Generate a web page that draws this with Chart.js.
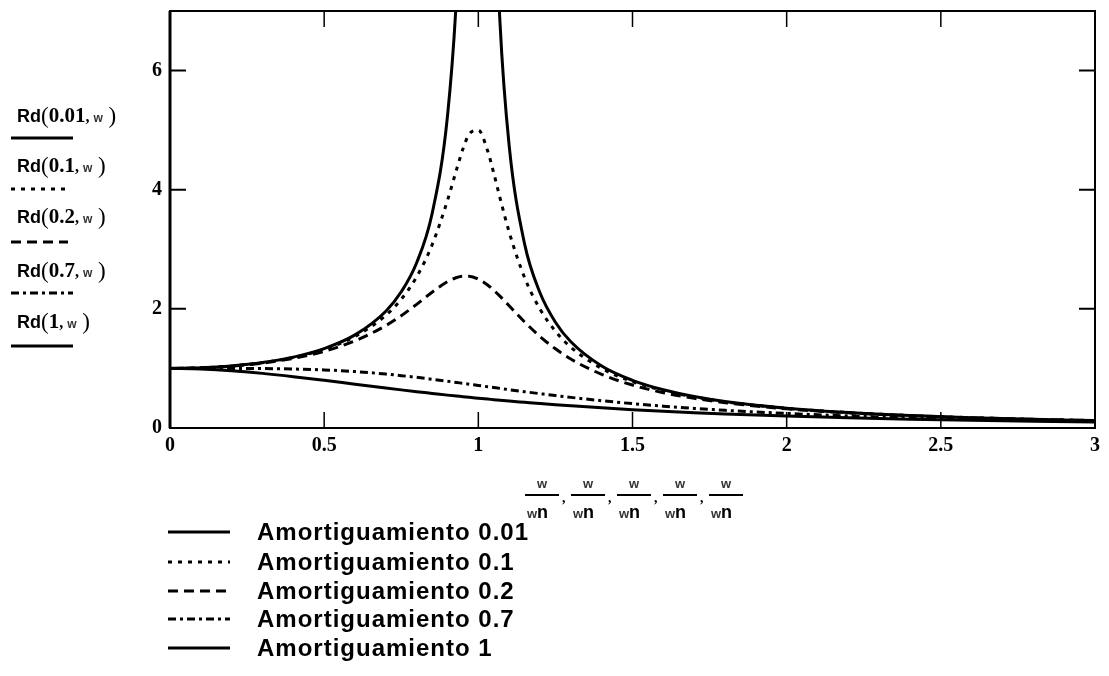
<!DOCTYPE html>
<html>
<head>
<meta charset="utf-8">
<script src="https://cdn.jsdelivr.net/npm/chart.js@4/dist/chart.umd.min.js"></script>
<style>
html,body{margin:0;padding:0;background:#fff;}
#c{display:block;}
</style>
</head>
<body>
<canvas id="c" width="1109" height="676"></canvas>
<script>
// ---- data ----
const ratio = [0,0.1,0.2,0.3,0.4,0.5,0.6,0.7,0.75,0.8,0.85,0.9,0.93,0.95,0.97,1.0,1.03,1.05,1.07,1.1,1.15,1.2,1.25,1.3,1.4,1.5,1.6,1.7,1.8,2.0,2.2,2.4,2.6,2.8,3.0];
const rd001 = [1,1.01,1.042,1.099,1.19,1.333,1.563,1.961,2.286,2.775,3.597,5.24,7.33,10.07,16.08,50,15.55,9.56,6.83,4.74,3.09,2.27,1.776,1.448,1.041,0.80,0.641,0.529,0.446,0.333,0.260,0.210,0.174,0.146,0.125];
const rd01 = [1,1.01,1.041,1.097,1.185,1.322,1.536,1.891,2.162,2.538,3.073,3.821,4.35,4.683,4.931,5.0,4.655,4.279,3.869,3.288,2.525,1.995,1.625,1.356,1.0,0.778,0.628,0.521,0.441,0.330,0.259,0.209,0.173,0.146,0.125];
const rd02 = [1,1.009,1.038,1.09,1.17,1.288,1.463,1.719,1.885,2.076,2.279,2.457,2.527,2.549,2.548,2.5,2.401,2.313,2.213,2.051,1.78,1.536,1.329,1.157,0.90,0.721,0.593,0.498,0.425,0.322,0.254,0.206,0.171,0.144,0.124];
const rd07 = [1,1.0,1.0,0.998,0.99,0.975,0.947,0.905,0.879,0.85,0.818,0.785,0.764,0.75,0.736,0.714,0.693,0.679,0.665,0.643,0.609,0.576,0.544,0.514,0.458,0.409,0.366,0.329,0.297,0.244,0.203,0.172,0.147,0.127,0.111];
const rd1 = [1,0.99,0.962,0.917,0.862,0.8,0.735,0.671,0.64,0.61,0.581,0.552,0.536,0.526,0.515,0.5,0.485,0.476,0.466,0.452,0.431,0.41,0.39,0.372,0.338,0.308,0.281,0.257,0.236,0.2,0.171,0.148,0.129,0.113,0.1];
const dampings = ['0.01','0.1','0.2','0.7','1'];
const seriesNames = ['Amortiguamiento 0.01','Amortiguamiento 0.1','Amortiguamiento 0.2','Amortiguamiento 0.7','Amortiguamiento 1'];
const xTicks = [0,0.5,1,1.5,2,2.5,3];
const yTicks = [0,2,4,6];

// ---- styles ----
const series = [rd001, rd01, rd02, rd07, rd1];
const dashes = [[], [4,6], [10,6], [8,4,3,4], []];

const datasets = series.map((vals, i) => ({
  label: seriesNames[i],
  data: ratio.map((x, k) => ({x: x, y: vals[k]})),
  borderColor: '#000',
  borderWidth: 3,
  borderDash: dashes[i],
  borderCapStyle: 'butt',
  pointRadius: 0,
  fill: false,
  cubicInterpolationMode: 'monotone'
}));

function drawRich(ctx, x, y, parts) {
  ctx.textBaseline = 'alphabetic';
  ctx.textAlign = 'left';
  for (const p of parts) {
    ctx.font = p.f;
    ctx.fillStyle = p.c || '#000';
    ctx.fillText(p.t, x + (p.dx || 0), y + (p.dy || 0));
    x += ctx.measureText(p.t).width + (p.dx || 0);
  }
}

const decor = {
  id: 'decor',
  afterDraw(chart) {
    const ctx = chart.ctx;
    const a = chart.chartArea;
    const xs = chart.scales.x, ys = chart.scales.y;
    ctx.save();
    ctx.setLineDash([]);
    ctx.strokeStyle = '#000';
    // frame
    ctx.lineWidth = 2;
    ctx.strokeRect(a.left, a.top, a.right - a.left, a.bottom - a.top);
    ctx.lineWidth = 3;
    ctx.beginPath(); ctx.moveTo(a.left, a.top); ctx.lineTo(a.left, a.bottom); ctx.stroke();
    // inward ticks
    ctx.lineWidth = 1.5;
    xTicks.forEach(v => {
      if (v === xs.min || v === xs.max) return;
      const px = xs.getPixelForValue(v);
      ctx.beginPath();
      ctx.moveTo(px, a.bottom); ctx.lineTo(px, a.bottom - 16);
      ctx.moveTo(px, a.top); ctx.lineTo(px, a.top + 16);
      ctx.stroke();
    });
    ctx.lineWidth = 2;
    yTicks.forEach(v => {
      if (v === ys.min) return;
      const py = ys.getPixelForValue(v);
      ctx.beginPath();
      ctx.moveTo(a.left, py); ctx.lineTo(a.left + 16, py);
      ctx.moveTo(a.right, py); ctx.lineTo(a.right - 16, py);
      ctx.stroke();
    });

    // left-hand labels Rd(ζ, w)
    const baseY = [122, 172, 223, 277, 328];
    const lineY = [138, 189, 242, 293, 346];
    const lineEnd = [73, 65, 68, 73, 73];
    dampings.forEach((d, i) => {
      drawRich(ctx, 17, baseY[i], [
        {t: 'Rd', f: 'bold 18px "Liberation Sans", Arial, sans-serif'},
        {t: '(', f: '23px "Liberation Serif", serif', dy: 1},
        {t: d, f: 'bold 21px "Liberation Serif", serif'},
        {t: ', ', f: 'bold 16px "Liberation Serif", serif'},
        {t: 'w', f: 'bold 12px "Liberation Sans", sans-serif', c: '#333'},
        {t: ' )', f: '23px "Liberation Serif", serif', dy: 1}
      ]);
      ctx.setLineDash(chart.data.datasets[i].borderDash);
      ctx.lineWidth = 3;
      ctx.lineCap = 'butt';
      ctx.beginPath(); ctx.moveTo(11, lineY[i]); ctx.lineTo(lineEnd[i], lineY[i]); ctx.stroke();
    });
    ctx.setLineDash([]);

    // x-axis label: w/wn, w/wn, ...
    const fx = [525, 571, 617, 663, 709];
    fx.forEach((x0, i) => {
      ctx.lineWidth = 2;
      ctx.beginPath(); ctx.moveTo(x0, 495); ctx.lineTo(x0 + 34, 495); ctx.stroke();
      ctx.textAlign = 'center';
      ctx.font = 'bold 13px "Liberation Sans", sans-serif';
      ctx.fillStyle = '#333';
      ctx.fillText('w', x0 + 17, 488);
      drawRich(ctx, x0 + 2, 518, [
        {t: 'w', f: 'bold 13px "Liberation Sans", sans-serif', c: '#333'},
        {t: 'n', f: 'bold 18px "Liberation Sans", sans-serif'}
      ]);
      if (i < fx.length - 1) {
        ctx.font = 'bold 14px "Liberation Serif", serif';
        ctx.fillStyle = '#000';
        ctx.textAlign = 'left';
        ctx.fillText(',', x0 + 37, 502);
      }
    });

    // bottom legend
    const rowY = [532, 562, 591, 619, 648];
    chart.data.datasets.forEach((ds, i) => {
      ctx.setLineDash(ds.borderDash);
      ctx.lineWidth = 3;
      ctx.beginPath(); ctx.moveTo(168, rowY[i]); ctx.lineTo(230, rowY[i]); ctx.stroke();
      ctx.setLineDash([]);
      ctx.font = 'bold 24px "Liberation Sans", Arial, sans-serif';
      ctx.letterSpacing = '1px';
      ctx.fillStyle = '#000';
      ctx.textAlign = 'left';
      ctx.textBaseline = 'alphabetic';
      ctx.fillText(ds.label, 257, rowY[i] + 8);
      ctx.letterSpacing = '0px';
    });
    ctx.restore();
  }
};

new Chart(document.getElementById('c'), {
  type: 'line',
  data: { datasets: datasets },
  options: {
    responsive: false,
    animation: false,
    layout: { autoPadding: false, padding: { left: 0, right: 14, top: 11, bottom: 218 } },
    plugins: { legend: { display: false }, tooltip: { enabled: false } },
    scales: {
      x: {
        type: 'linear', min: 0, max: 3,
        afterBuildTicks: s => { s.ticks = xTicks.map(v => ({value: v})); },
        afterFit: s => { s.height = 30; s.paddingLeft = 0; s.paddingRight = 0; },
        grid: { display: false, drawTicks: false },
        border: { display: false },
        ticks: { font: { family: '"Liberation Serif", serif', weight: 'bold', size: 20 }, color: '#000', padding: 6, maxRotation: 0, autoSkip: false, callback: v => String(v) }
      },
      y: {
        type: 'linear', min: 0, max: 7,
        afterBuildTicks: s => { s.ticks = yTicks.map(v => ({value: v})); },
        afterFit: s => { s.width = 170; s.paddingTop = 0; s.paddingBottom = 0; },
        grid: { display: false, drawTicks: false },
        border: { display: false },
        ticks: { font: { family: '"Liberation Serif", serif', weight: 'bold', size: 20 }, color: '#000', padding: 8, callback: v => String(v) }
      }
    }
  },
  plugins: [decor]
});
</script>
</body>
</html>
